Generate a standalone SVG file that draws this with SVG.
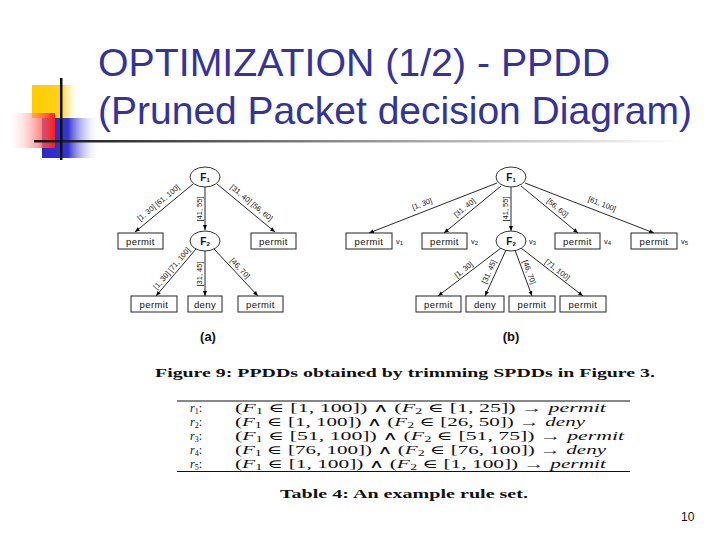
<svg xmlns="http://www.w3.org/2000/svg" width="720" height="540" viewBox="0 0 720 540">
<defs>
  <linearGradient id="gY" x1="0" y1="0" x2="1" y2="0">
    <stop offset="0" stop-color="#ffcc00"/><stop offset="0.6" stop-color="#ffd21a"/><stop offset="1" stop-color="#ffffff" stop-opacity="0"/>
  </linearGradient>
  <linearGradient id="gR" x1="0" y1="0" x2="1" y2="0">
    <stop offset="0" stop-color="#ffffff" stop-opacity="0.2"/><stop offset="1" stop-color="#ff1a1a"/>
  </linearGradient>
  <linearGradient id="gB" x1="0" y1="0" x2="1" y2="0">
    <stop offset="0" stop-color="#2a2acc"/><stop offset="0.45" stop-color="#3535d0"/><stop offset="1" stop-color="#ffffff" stop-opacity="0"/>
  </linearGradient>
  <linearGradient id="gL" x1="0" y1="0" x2="1" y2="0">
    <stop offset="0" stop-color="#111111"/><stop offset="0.45" stop-color="#888888"/><stop offset="1" stop-color="#ffffff"/>
  </linearGradient>
  <marker id="ar" viewBox="0 0 10 10" refX="10" refY="5" markerWidth="5" markerHeight="5" markerUnits="userSpaceOnUse" orient="auto">
    <path d="M0,1 L10,5 L0,9 z" fill="#000"/>
  </marker>
  <style>
    .title{font-family:"Liberation Sans",Arial,sans-serif;font-size:39px;fill:#333399}
    .box{fill:#fff;stroke:#222;stroke-width:1}
    .node{fill:#fff;stroke:#333;stroke-width:1}
    .bt{font-family:"Liberation Sans",Arial,sans-serif;font-size:9.5px;fill:#111;text-anchor:middle;letter-spacing:0.4px}
    .nt{font-family:"Liberation Sans",Arial,sans-serif;font-size:10px;fill:#111;text-anchor:middle;font-weight:bold}
    .lb{font-family:"Liberation Sans",Arial,sans-serif;font-size:7.5px;fill:#111;text-anchor:middle}
    .vt{font-family:"Liberation Sans",Arial,sans-serif;font-size:7.5px;fill:#111}
    .edge{stroke:#111;stroke-width:0.9;fill:none;marker-end:url(#ar)}
    .sub{font-size:6px}
    .fig{font-family:"Liberation Sans",Arial,sans-serif;font-size:13px;font-weight:bold;fill:#111;text-anchor:middle}
    .cap{font-family:"Liberation Serif","Times New Roman",serif;font-size:13px;font-weight:bold;fill:#111}
    .row{font-family:"Liberation Serif","DejaVu Serif",serif;font-size:12px;fill:#111}
    .it{font-style:italic}
  </style>
</defs>
<rect width="720" height="540" fill="#fff"/>

<g id="logo">
  <rect x="32" y="85" width="48" height="33" fill="url(#gY)"/>
  <rect x="42" y="118" width="58" height="40" fill="url(#gB)"/>
  <rect x="10" y="113" width="45" height="35" fill="url(#gR)"/>
  <rect x="34" y="140" width="650" height="2.5" fill="url(#gL)"/>
  <rect x="60" y="78" width="2.5" height="82" fill="#111"/>
</g>

<g id="title">
  <text class="title" x="98" y="76" textLength="512" lengthAdjust="spacingAndGlyphs">OPTIMIZATION (1/2) - PPDD</text>
  <text class="title" x="98" y="124" textLength="594" lengthAdjust="spacingAndGlyphs">(Pruned Packet decision Diagram)</text>
</g>

<!-- Figure (a) -->
<g id="connectors-a">
  <line class="edge" x1="193" y1="184" x2="135" y2="232"/>
  <line class="edge" x1="205" y1="187" x2="205" y2="230"/>
  <line class="edge" x1="217" y1="184" x2="275" y2="232"/>
  <line class="edge" x1="196" y1="249" x2="156" y2="296"/>
  <line class="edge" x1="205" y1="251" x2="205" y2="296"/>
  <line class="edge" x1="214" y1="249" x2="258" y2="296"/>
  <text class="lb" transform="translate(162,207) rotate(-39.6)" y="-3">[1, 30] [61, 100]</text>
  <text class="lb" transform="translate(205,209) rotate(-90)" y="-3">[41, 55]</text>
  <text class="lb" transform="translate(248,207) rotate(39.6)" y="-3">[31, 40] [56, 60]</text>
  <text class="lb" transform="translate(176,272) rotate(-49.6)" y="-3">[1, 30] [71, 100]</text>
  <text class="lb" transform="translate(205,274) rotate(-90)" y="-3">[31, 45]</text>
  <text class="lb" transform="translate(236,272) rotate(46.9)" y="-3">[46, 70]</text>
</g>
<g id="a-F1"><ellipse class="node" cx="205" cy="177" rx="15" ry="10"/><text class="nt" x="205" y="181">F<tspan class="sub" dy="1">1</tspan></text></g>
<g id="a-F2"><ellipse class="node" cx="205" cy="241" rx="15" ry="10"/><text class="nt" x="205" y="245">F<tspan class="sub" dy="1">2</tspan></text></g>
<g id="a-p1"><rect class="box" x="118" y="233" width="45" height="16"/><text class="bt" x="140.5" y="244.5">permit</text></g>
<g id="a-p2"><rect class="box" x="251" y="233" width="45" height="16"/><text class="bt" x="273.5" y="244.5">permit</text></g>
<g id="a-p3"><rect class="box" x="131" y="296" width="46" height="16"/><text class="bt" x="154" y="307.5">permit</text></g>
<g id="a-d1"><rect class="box" x="188" y="296" width="34" height="16"/><text class="bt" x="205" y="307.5">deny</text></g>
<g id="a-p4"><rect class="box" x="238" y="296" width="45" height="16"/><text class="bt" x="260.5" y="307.5">permit</text></g>
<text class="fig" x="208" y="341">(a)</text>

<!-- Figure (b) -->
<g id="connectors-b">
  <line class="edge" x1="497" y1="183" x2="369" y2="233"/>
  <line class="edge" x1="501" y1="186" x2="444" y2="233"/>
  <line class="edge" x1="511" y1="187" x2="511" y2="231"/>
  <line class="edge" x1="521" y1="186" x2="578" y2="233"/>
  <line class="edge" x1="525" y1="183" x2="654" y2="233"/>
  <line class="edge" x1="501" y1="248" x2="438" y2="296"/>
  <line class="edge" x1="506" y1="250" x2="485" y2="296"/>
  <line class="edge" x1="515" y1="250" x2="532" y2="296"/>
  <line class="edge" x1="521" y1="248" x2="583" y2="296"/>
  <text class="lb" transform="translate(424,209) rotate(-21.3)" y="-3">[1, 30]</text>
  <text class="lb" transform="translate(468,212) rotate(-39.5)" y="-3">[31, 40]</text>
  <text class="lb" transform="translate(511,209) rotate(-90)" y="-3">[41, 55]</text>
  <text class="lb" transform="translate(554,212) rotate(39.5)" y="-3">[56, 60]</text>
  <text class="lb" transform="translate(600,209) rotate(21.2)" y="-3">[61, 100]</text>
  <text class="lb" transform="translate(467,274) rotate(-37.3)" y="-3">[1, 30]</text>
  <text class="lb" transform="translate(494,274) rotate(-65.5)" y="-3">[31, 45]</text>
  <text class="lb" transform="translate(524,274) rotate(69.7)" y="-3">[46, 70]</text>
  <text class="lb" transform="translate(554,274) rotate(37.7)" y="-3">[71, 100]</text>
</g>
<g id="b-F1"><ellipse class="node" cx="511" cy="177" rx="15" ry="10"/><text class="nt" x="511" y="181">F<tspan class="sub" dy="1">1</tspan></text></g>
<g id="b-v1"><rect class="box" x="346" y="233" width="46" height="16"/><text class="bt" x="369" y="244.5">permit</text><text class="vt" x="396" y="244">v<tspan class="sub" dy="1">1</tspan></text></g>
<g id="b-v2"><rect class="box" x="422" y="233" width="45" height="16"/><text class="bt" x="444.5" y="244.5">permit</text><text class="vt" x="471" y="244">v<tspan class="sub" dy="1">2</tspan></text></g>
<g id="b-F2"><ellipse class="node" cx="511" cy="241" rx="15" ry="10"/><text class="nt" x="511" y="245">F<tspan class="sub" dy="1">2</tspan></text><text class="vt" x="529" y="244">v<tspan class="sub" dy="1">3</tspan></text></g>
<g id="b-v4"><rect class="box" x="555" y="233" width="45" height="16"/><text class="bt" x="577.5" y="244.5">permit</text><text class="vt" x="604" y="244">v<tspan class="sub" dy="1">4</tspan></text></g>
<g id="b-v5"><rect class="box" x="631" y="233" width="46" height="16"/><text class="bt" x="654" y="244.5">permit</text><text class="vt" x="681" y="244">v<tspan class="sub" dy="1">5</tspan></text></g>
<g id="b-p1"><rect class="box" x="416" y="296" width="45" height="16"/><text class="bt" x="438.5" y="307.5">permit</text></g>
<g id="b-d1"><rect class="box" x="466" y="296" width="38" height="16"/><text class="bt" x="485" y="307.5">deny</text></g>
<g id="b-p2"><rect class="box" x="509" y="296" width="46" height="16"/><text class="bt" x="532" y="307.5">permit</text></g>
<g id="b-p3"><rect class="box" x="560" y="296" width="46" height="16"/><text class="bt" x="583" y="307.5">permit</text></g>
<text class="fig" x="511" y="341">(b)</text>

<text class="cap" x="155" y="377" textLength="500" lengthAdjust="spacingAndGlyphs">Figure 9: PPDDs obtained by trimming SPDDs in Figure 3.</text>

<g id="table">
  <line x1="177" y1="401" x2="630" y2="401" stroke="#111" stroke-width="1"/>
  <line x1="177" y1="471.5" x2="630" y2="471.5" stroke="#111" stroke-width="1"/>
  <text class="row" x="190" y="412"><tspan class="it">r</tspan><tspan font-size="8" dy="2">1</tspan><tspan dy="-2">:</tspan></text>
  <text class="row" x="235" y="412" textLength="371" lengthAdjust="spacingAndGlyphs">(<tspan class="it">F</tspan><tspan font-size="8" dy="2">1</tspan><tspan dy="-2"> ∈ [1, 100]) ∧ (</tspan><tspan class="it">F</tspan><tspan font-size="8" dy="2">2</tspan><tspan dy="-2"> ∈ [1, 25]) → </tspan><tspan class="it">permit</tspan></text>
  <text class="row" x="190" y="426"><tspan class="it">r</tspan><tspan font-size="8" dy="2">2</tspan><tspan dy="-2">:</tspan></text>
  <text class="row" x="235" y="426" textLength="350" lengthAdjust="spacingAndGlyphs">(<tspan class="it">F</tspan><tspan font-size="8" dy="2">1</tspan><tspan dy="-2"> ∈ [1, 100]) ∧ (</tspan><tspan class="it">F</tspan><tspan font-size="8" dy="2">2</tspan><tspan dy="-2"> ∈ [26, 50]) → </tspan><tspan class="it">deny</tspan></text>
  <text class="row" x="190" y="440"><tspan class="it">r</tspan><tspan font-size="8" dy="2">3</tspan><tspan dy="-2">:</tspan></text>
  <text class="row" x="235" y="440" textLength="389" lengthAdjust="spacingAndGlyphs">(<tspan class="it">F</tspan><tspan font-size="8" dy="2">1</tspan><tspan dy="-2"> ∈ [51, 100]) ∧ (</tspan><tspan class="it">F</tspan><tspan font-size="8" dy="2">2</tspan><tspan dy="-2"> ∈ [51, 75]) → </tspan><tspan class="it">permit</tspan></text>
  <text class="row" x="190" y="454"><tspan class="it">r</tspan><tspan font-size="8" dy="2">4</tspan><tspan dy="-2">:</tspan></text>
  <text class="row" x="235" y="454" textLength="371" lengthAdjust="spacingAndGlyphs">(<tspan class="it">F</tspan><tspan font-size="8" dy="2">1</tspan><tspan dy="-2"> ∈ [76, 100]) ∧ (</tspan><tspan class="it">F</tspan><tspan font-size="8" dy="2">2</tspan><tspan dy="-2"> ∈ [76, 100]) → </tspan><tspan class="it">deny</tspan></text>
  <text class="row" x="190" y="468"><tspan class="it">r</tspan><tspan font-size="8" dy="2">5</tspan><tspan dy="-2">:</tspan></text>
  <text class="row" x="235" y="468" textLength="371" lengthAdjust="spacingAndGlyphs">(<tspan class="it">F</tspan><tspan font-size="8" dy="2">1</tspan><tspan dy="-2"> ∈ [1, 100]) ∧ (</tspan><tspan class="it">F</tspan><tspan font-size="8" dy="2">2</tspan><tspan dy="-2"> ∈ [1, 100]) → </tspan><tspan class="it">permit</tspan></text>
</g>

<text class="cap" x="280" y="498" textLength="248" lengthAdjust="spacingAndGlyphs">Table 4: An example rule set.</text>

<text x="681" y="521" font-family="Liberation Sans, Arial, sans-serif" font-size="12" fill="#111">10</text>
</svg>
